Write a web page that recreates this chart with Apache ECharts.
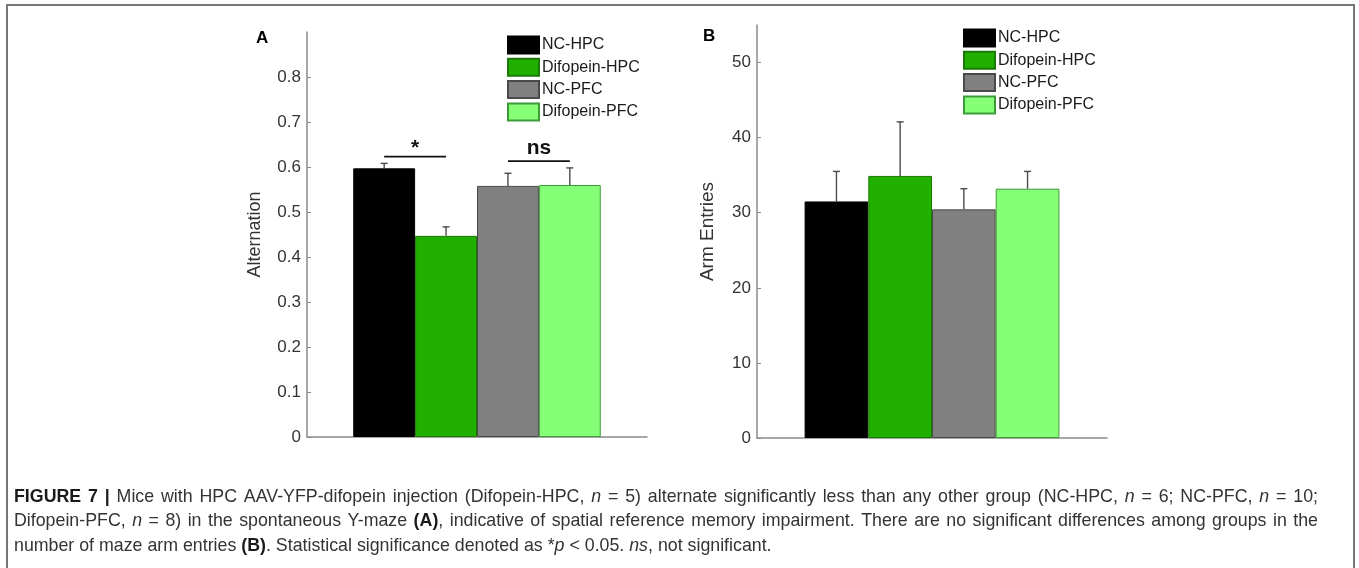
<!DOCTYPE html>
<html>
<head>
<meta charset="utf-8">
<script src="https://cdn.jsdelivr.net/npm/echarts@6/dist/echarts.min.js"></script>
<style>
html,body{margin:0;padding:0;background:#fff;}
#chart{width:1359px;height:568px;}
</style>
</head>
<body>
<div id="chart"></div>
<script>
// ---- data ----
const groups = ['NC-HPC', 'Difopein-HPC', 'NC-PFC', 'Difopein-PFC'];
const altMeans = [0.597, 0.447, 0.558, 0.560];
const altErrs = [0.011, 0.020, 0.028, 0.038];
const armMeans = [31.5, 34.9, 30.45, 33.2];
const armErrs = [4.0, 7.2, 2.75, 2.3];
const altAxisMax = 0.9;
const armAxisMax = 55;
const altTickStep = 0.1;
const armTickStep = 10;
// significance marks on panel A
const sigLabels = ['*', 'ns'];
const sigFrom = [0, 2];
const sigTo = [1, 3];
const sigLine = [0.623, 0.613];
const sigText = [0.652, 0.645];

// ---- caption text ----
const capLines = [
  [['b', 'FIGURE 7 |'], ['r', ' Mice with HPC AAV-YFP-difopein injection (Difopein-HPC, '], ['i', 'n'], ['r', ' = 5) alternate significantly less than any other group (NC-HPC, '], ['i', 'n'], ['r', ' = 6; NC-PFC, '], ['i', 'n'], ['r', ' = 10;']],
  [['r', 'Difopein-PFC, '], ['i', 'n'], ['r', ' = 8) in the spontaneous Y-maze '], ['b', '(A)'], ['r', ', indicative of spatial reference memory impairment. There are no significant differences among groups in the']],
  [['r', 'number of maze arm entries '], ['b', '(B)'], ['r', '. Statistical significance denoted as *'], ['i', 'p'], ['r', ' < 0.05. '], ['i', 'ns'], ['r', ', not significant.']]
];
const capJustify = [true, true, false];

// ---- style ----
const barColors = ['#000000', '#22b000', '#808080', '#85ff75'];
const barEdge = ['#000000', '#1a7a05', '#4a4a4a', '#3f9a3a'];
const FONT = "'Liberation Sans', Arial, Helvetica, sans-serif";
const BAR_FRAC = 0.182;
const axisGray = '#8a8a8a';
const labelGray = '#333333';
const CAP_FONT = "'Liberation Sans Narrow', 'Liberation Sans', Arial, sans-serif";
const CAP_SIZE = 17.8;
const CAP_LEFT = 14, CAP_RIGHT = 1318, CAP_Y0 = 497, CAP_LH = 24.5;

const chart = echarts.init(document.getElementById('chart'), null, {renderer: 'canvas'});

function barSeries(gi, values) {
  return groups.map((g, i) => ({
    name: g,
    type: 'bar',
    xAxisIndex: gi, yAxisIndex: gi,
    barWidth: (BAR_FRAC * 100) + '%',
    barGap: '0%',
    data: [values[i]],
    itemStyle: {color: barColors[i], borderColor: barEdge[i], borderWidth: 1},
    emphasis: {disabled: true},
    z: 2
  }));
}

function errSeries(gi, means, errs) {
  return {
    type: 'custom',
    name: 'err' + gi,
    xAxisIndex: gi, yAxisIndex: gi,
    z: 5,
    silent: true,
    encode: {x: 0, y: 2},
    data: means.map((m, i) => [0, m, m + errs[i], i]),
    renderItem: function (params, api) {
      const base = api.coord([0, api.value(1)]);
      const top = api.coord([0, api.value(2)]);
      const band = api.size([1, 0])[0];
      const x = base[0] + (api.value(3) - 1.5) * band * BAR_FRAC;
      const st = {stroke: '#4a4a4a', lineWidth: 1.4};
      return {
        type: 'group',
        children: [
          {type: 'line', shape: {x1: x, y1: base[1], x2: x, y2: top[1]}, style: st},
          {type: 'line', shape: {x1: x - 3.5, y1: top[1], x2: x + 3.5, y2: top[1]}, style: st}
        ]
      };
    }
  };
}

const sigSeries = {
  type: 'custom',
  name: 'sig',
  xAxisIndex: 0, yAxisIndex: 0,
  z: 6,
  silent: true,
  encode: {x: 0, y: 3},
  data: sigLabels.map((l, i) => [0, sigFrom[i], sigTo[i], sigLine[i], sigText[i], i]),
  renderItem: function (params, api) {
    const band = api.size([1, 0])[0];
    const c = api.coord([0, api.value(3)]);
    const t = api.coord([0, api.value(4)]);
    const x1 = c[0] + (api.value(1) - 1.5) * band * BAR_FRAC;
    const x2 = c[0] + (api.value(2) - 1.5) * band * BAR_FRAC;
    const label = sigLabels[api.value(5)];
    return {
      type: 'group',
      children: [
        {type: 'line', shape: {x1: x1, y1: c[1], x2: x2, y2: c[1]}, style: {stroke: '#111', lineWidth: 1.6}},
        {type: 'text', x: (x1 + x2) / 2, y: t[1] + (label === '*' ? 5 : 1),
         style: {text: label, font: 'bold 21px ' + FONT, fill: '#111', align: 'center', verticalAlign: 'middle'}}
      ]
    };
  }
};

function yAxis(gi, max, step, name, gap, nameSize) {
  return {
    type: 'value', gridIndex: gi, min: 0, max: max, interval: step,
    name: name, nameLocation: 'middle', nameGap: gap, nameRotate: 90,
    nameTextStyle: {fontFamily: FONT, fontSize: nameSize, color: labelGray},
    axisLine: {show: true, lineStyle: {color: axisGray, width: 1.5}},
    axisTick: {show: true, inside: true, length: 4, lineStyle: {color: axisGray}},
    axisLabel: {fontFamily: FONT, fontSize: 17, color: labelGray, margin: 6, showMaxLabel: false},
    splitLine: {show: false}
  };
}
function xAxis(gi) {
  return {
    type: 'category', gridIndex: gi, data: [''],
    axisLine: {show: true, onZero: false, lineStyle: {color: axisGray, width: 1.5}},
    axisTick: {show: false}, axisLabel: {show: false}, splitLine: {show: false}
  };
}

// ---- justified caption built from measured words ----
const capFonts = {
  r: CAP_SIZE + 'px ' + CAP_FONT,
  b: 'bold ' + CAP_SIZE + 'px ' + CAP_FONT,
  i: 'italic ' + CAP_SIZE + 'px ' + CAP_FONT
};
const capRich = {
  r: {fontFamily: CAP_FONT, fontSize: CAP_SIZE, fill: '#333'},
  b: {fontFamily: CAP_FONT, fontSize: CAP_SIZE, fontWeight: 'bold', fill: '#1a1a1a'},
  i: {fontFamily: CAP_FONT, fontSize: CAP_SIZE, fontStyle: 'italic', fill: '#333'}
};
const mctx = document.createElement('canvas').getContext('2d');
function measure(style, txt) { mctx.font = capFonts[style]; return mctx.measureText(txt).width; }
const captionGraphics = [];
capLines.forEach((parts, li) => {
  const words = [];
  let cur = [];
  parts.forEach(([st, txt]) => {
    const pieces = txt.split(' ');
    pieces.forEach((p, k) => {
      if (k > 0) { words.push(cur); cur = []; }
      if (p.length) cur.push([st, p]);
    });
  });
  words.push(cur);
  const ws = words.filter(w => w.length);
  const widths = ws.map(w => w.reduce((s, [st, t]) => s + measure(st, t), 0));
  const total = widths.reduce((a, b) => a + b, 0);
  const gap = capJustify[li] ? (CAP_RIGHT - CAP_LEFT - total) / (ws.length - 1) : measure('r', ' ');
  let x = CAP_LEFT;
  const y = CAP_Y0 + li * CAP_LH;
  ws.forEach((w, k) => {
    captionGraphics.push({
      type: 'text', x: x, y: y, silent: true,
      style: {
        text: w.map(([st, t]) => '{' + st + '|' + t + '}').join(''),
        rich: capRich, verticalAlign: 'middle', align: 'left'
      }
    });
    x += widths[k] + gap;
  });
});

const legendBase = {
  orient: 'vertical', data: groups, icon: 'rect',
  itemWidth: 31, itemHeight: 17, itemGap: 3.3, padding: 0,
  textStyle: {fontFamily: FONT, fontSize: 16, color: '#1a1a1a', lineHeight: 17, padding: [0, 0, 0, -2]},
  selectedMode: false
};

chart.setOption({
  animation: false,
  backgroundColor: '#fff',
  grid: [
    {left: 307, top: 32, width: 340, height: 405},
    {left: 757, top: 25, width: 350, height: 413}
  ],
  xAxis: [xAxis(0), xAxis(1)],
  yAxis: [
    yAxis(0, altAxisMax, altTickStep, 'Alternation', 43, 18),
    yAxis(1, armAxisMax, armTickStep, 'Arm Entries', 40, 19)
  ],
  legend: [
    Object.assign({left: 507, top: 35.5}, legendBase),
    Object.assign({left: 963, top: 28.5}, legendBase)
  ],
  series: [].concat(
    barSeries(0, altMeans),
    barSeries(1, armMeans),
    [errSeries(0, altMeans, altErrs), errSeries(1, armMeans, armErrs), sigSeries]
  ),
  graphic: [
    {type: 'rect', shape: {x: 7, y: 5, width: 1347, height: 620}, style: {fill: 'none', stroke: '#777', lineWidth: 2}, silent: true},
    {type: 'text', left: 256, top: 30, style: {text: 'A', font: 'bold 17px ' + FONT, fill: '#000'}},
    {type: 'text', left: 703, top: 28, style: {text: 'B', font: 'bold 17px ' + FONT, fill: '#000'}}
  ].concat(captionGraphics)
});
</script>
</body>
</html>
